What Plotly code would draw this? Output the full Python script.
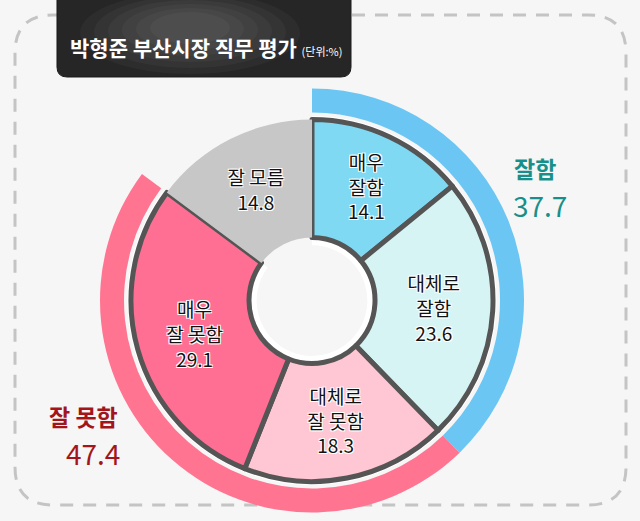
import plotly.graph_objects as go

W, H = 640, 521

# slice data (clockwise from 12 o'clock)
labels = ['매우 잘함', '대체로 잘함', '대체로 잘 못함', '매우 잘 못함', '잘 모름']
slice_text = ['매우<br>잘함', '대체로<br>잘함', '대체로<br>잘 못함', '매우<br>잘 못함', '잘 모름']
values = [14.1, 23.6, 18.3, 29.1, 14.8]

# outer ring groups
group_labels = ['잘함', '잘 못함', '잘 모름']
group_values = [37.7, 47.4, 14.8]

FONT = 'Noto Sans CJK KR'


def px(x):
    return x / W


def py(y):
    return 1 - y / H


def pie_domain(cx, cy, r):
    return dict(x=[px(cx - r), px(cx + r)], y=[py(cy + r), py(cy - r)])


def rounded_rect(x0, y0, x1, y1, r):
    pts = [
        ('M', (x0 + r, y0)), ('L', (x1 - r, y0)), ('Q', (x1, y0), (x1, y0 + r)),
        ('L', (x1, y1 - r)), ('Q', (x1, y1), (x1 - r, y1)),
        ('L', (x0 + r, y1)), ('Q', (x0, y1), (x0, y1 - r)),
        ('L', (x0, y0 + r)), ('Q', (x0, y0), (x0 + r, y0)),
    ]
    out = ''
    for p in pts:
        out += p[0] + ' ' + ' '.join('%.5f,%.5f' % (px(a), py(b)) for a, b in p[1:]) + ' '
    return out + 'Z'


cx, cy = 312, 300.5

slice_colors = ['#7fd9f3', '#d7f4f4', '#ffc6d3', '#ff6f93', '#c7c7c7']
rim_colors = ['#ffffff'] * 4 + ['rgba(0,0,0,0)']
ring_colors = ['#6cc6f3', '#ff7591', 'rgba(0,0,0,0)']

halo = '-1px -1px 0 #fff, 1px -1px 0 #fff, -1px 1px 0 #fff, 1px 1px 0 #fff'

fig = go.Figure()

fig.add_trace(go.Pie(
    labels=group_labels, values=group_values,
    sort=False, direction='clockwise', rotation=0,
    hole=188 / 212,
    domain=pie_domain(cx, cy, 212),
    marker=dict(colors=ring_colors, line=dict(width=0)),
    textinfo='none', hoverinfo='label+value', showlegend=False,
))

# thin white rim outside the dark outline
fig.add_trace(go.Pie(
    labels=labels, values=values,
    sort=False, direction='clockwise', rotation=0,
    hole=0.3,
    domain=pie_domain(cx, cy, 184.5),
    marker=dict(colors=rim_colors, line=dict(width=0)),
    textinfo='none', hoverinfo='skip', showlegend=False,
))

fig.add_trace(go.Pie(
    labels=labels, values=values, text=slice_text,
    sort=False, direction='clockwise', rotation=0,
    hole=63 / 181,
    domain=pie_domain(cx, cy, 181),
    marker=dict(colors=slice_colors,
                line=dict(color='#555555', width=[5, 5, 5, 5, 0])),
    textinfo='text', textposition='inside',
    insidetextorientation='horizontal',
    texttemplate='%{text}<br>%{value}',
    textfont=dict(family=FONT, size=19, color='#111111', shadow=halo),
    hoverinfo='label+value', showlegend=False,
))

shapes = [
    dict(type='path', xref='paper', yref='paper', layer='below',
         path=rounded_rect(15, 15, 626, 505, 38),
         line=dict(color='#c4c4c4', width=3, dash='13px,10px')),
    dict(type='path', xref='paper', yref='paper',
         path=rounded_rect(57, -12, 351, 77, 10),
         fillcolor='#262626', line=dict(color='#1a1a1a', width=1)),
]
# soft sheen on the title box
for i in range(6):
    shapes.append(dict(type='circle', xref='paper', yref='paper',
                       x0=px(80 + i * 14), x1=px(300 - i * 14),
                       y0=py(74 - i * 6), y1=py(-8 + i * 4),
                       fillcolor='rgba(255,255,255,0.035)',
                       line=dict(width=0)))

annotations = [
    dict(x=px(68), y=py(47), xref='paper', yref='paper',
         xanchor='left', yanchor='middle', showarrow=False,
         text='<b>박형준 부산시장 직무 평가</b> <span style="font-size:11px">(단위:%)</span>',
         font=dict(family=FONT, size=21, color='#ffffff')),
    dict(x=px(512), y=py(168), xref='paper', yref='paper',
         xanchor='left', yanchor='middle', showarrow=False,
         text='<b>잘함</b>', font=dict(family=FONT, size=23, color='#17908c')),
    dict(x=px(511), y=py(205), xref='paper', yref='paper',
         xanchor='left', yanchor='middle', showarrow=False,
         text=str(group_values[0]), font=dict(family=FONT, size=28, color='#17908c')),
    dict(x=px(120), y=py(416), xref='paper', yref='paper',
         xanchor='right', yanchor='middle', showarrow=False,
         text='<b>잘 못함</b>', font=dict(family=FONT, size=23, color='#a3151b')),
    dict(x=px(122), y=py(453), xref='paper', yref='paper',
         xanchor='right', yanchor='middle', showarrow=False,
         text=str(group_values[1]), font=dict(family=FONT, size=28, color='#a3151b')),
]

fig.update_layout(
    width=W, height=H,
    margin=dict(l=0, r=0, t=0, b=0),
    paper_bgcolor='#f6f6f6', plot_bgcolor='#f6f6f6',
    shapes=shapes, annotations=annotations,
    uniformtext=dict(minsize=19, mode='show'),
)

fig.write_html("out.html", config={'displayModeBar': False},
               post_script="document.body.style.margin='0';"
                           "document.body.style.background='#f6f6f6';")
